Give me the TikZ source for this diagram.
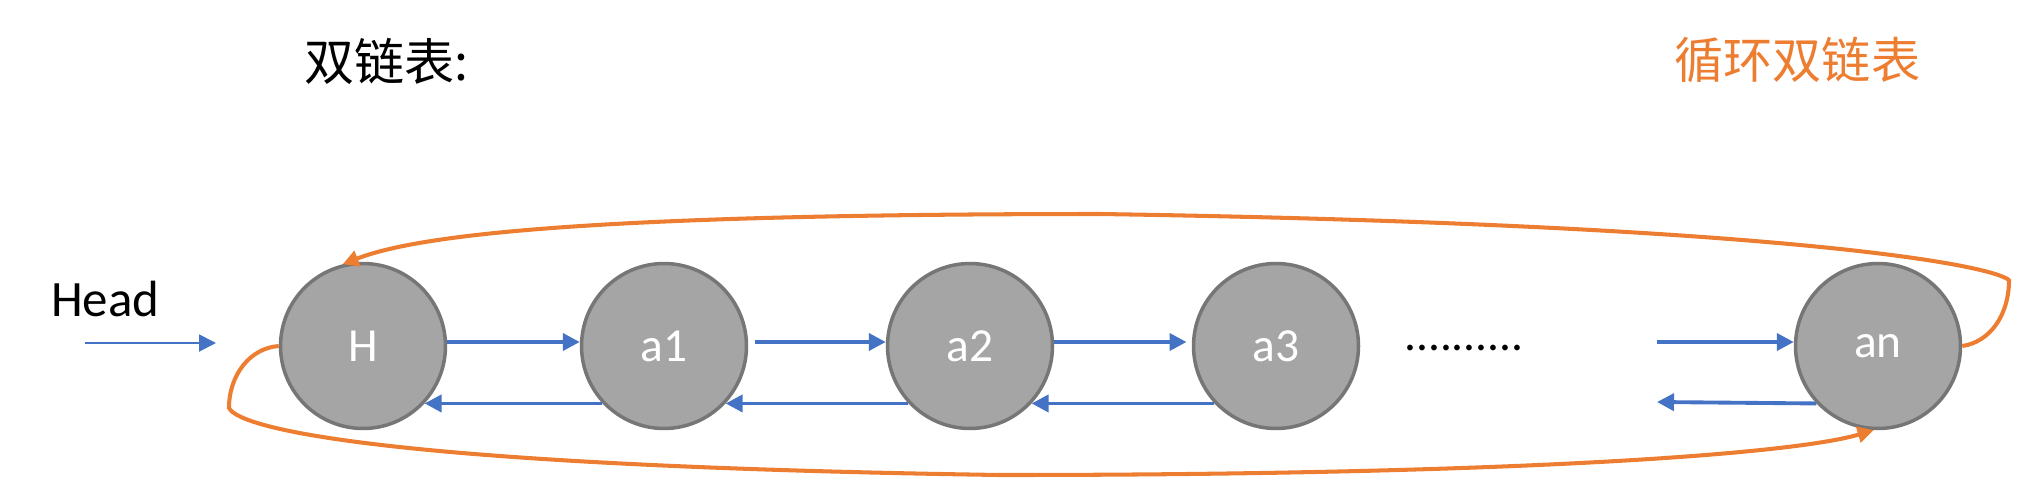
\documentclass[tikz,border=0pt]{standalone}
\usepackage{fontspec}
\setmainfont{Carlito}
\newfontfamily\cjk{Noto Sans CJK SC}
\usepackage{tikz}
\usetikzlibrary{arrows.meta}
\definecolor{LinkBlue}{RGB}{68, 114, 196}
\definecolor{RingOrange}{RGB}{237, 125, 49}
\definecolor{NodeGray}{RGB}{165, 165, 165}
\definecolor{EdgeGray}{RGB}{118, 118, 118}

\begin{document}
\begin{tikzpicture}[x=0.02cm, y=-0.02cm,
    listnode/.style={circle, fill=NodeGray, draw=EdgeGray, line width=2pt, minimum size=3.3cm, inner sep=0pt, text=white, font=\fontsize{27}{32}\selectfont},
    linkarrow/.style={-{Triangle[length=0.34cm, width=0.34cm]}, LinkBlue, line width=2.2pt},
    ringarrow/.style={-{Triangle[length=0.32cm, width=0.32cm]}, RingOrange, line width=2.3pt, line join=round}]
    \useasboundingbox (0,0) rectangle (2044,484);

    % Titles
    \node[anchor=west, font=\cjk\fontsize{28.5}{34}\selectfont] (title) at (298,61) {双链表:};
    \node[anchor=west, text=RingOrange, font=\cjk\fontsize{28}{34}\selectfont] (ringtitle) at (1668,60) {循环双链表};

    % List nodes
    \node[listnode] (H) at (363,346) {H};
    \node[listnode] (a1) at (664,346) {a1};
    \node[listnode] (a2) at (970,346) {a2};
    \node[listnode] (a3) at (1276,346) {a3};
    \node[listnode] (an) at (1878,346) {an};
    \node[anchor=base, font=\fontsize{27}{32}\selectfont] (dots) at (1464,350) {..........};

    % Head pointer
    \node[anchor=base west, font=\fontsize{29}{34}\selectfont] (head) at (45,316) {Head};
    \coordinate (headtail) at (85,343);
    \coordinate (headtip) at (216,343);
    \draw[linkarrow, line width=1.1pt] (headtail) -- (headtip);

    % Next links
    \draw[linkarrow] ([yshift=0.08cm]H.east) -- ([yshift=0.08cm]a1.west);
    \draw[linkarrow, shorten <=4pt] ([yshift=0.08cm]a1.east) -- ([yshift=0.08cm]a2.west);
    \draw[linkarrow, shorten >=3pt] ([yshift=0.08cm]a2.east) -- ([yshift=0.08cm]a3.west);
    \coordinate (intail) at (1657,342);
    \draw[linkarrow] (intail) -- ([yshift=0.08cm]an.west);

    % Prior links
    \draw[linkarrow] (a1.-137) -- (H.-43);
    \draw[linkarrow] (a2.-137) -- (a1.-43);
    \draw[linkarrow] (a3.-137) -- (a2.-43);
    \coordinate (backtip) at (1657,402);
    \draw[linkarrow] (an.-137) -- (backtip);

    % Circular links
    \draw[ringarrow] (an.east) .. controls (1990,342) and (2009,315) .. (2009,280)
        .. controls (1985,262) and (1750,224) .. (1100,214)
        .. controls (600,214) and (420,234) .. (H.104);
    \draw[ringarrow] (H.west) .. controls (250,348) and (229,375) .. (229,408)
        .. controls (240,430) and (400,466) .. (1000,475)
        .. controls (1500,475) and (1790,455) .. (an.-93);
\end{tikzpicture}
\end{document}
